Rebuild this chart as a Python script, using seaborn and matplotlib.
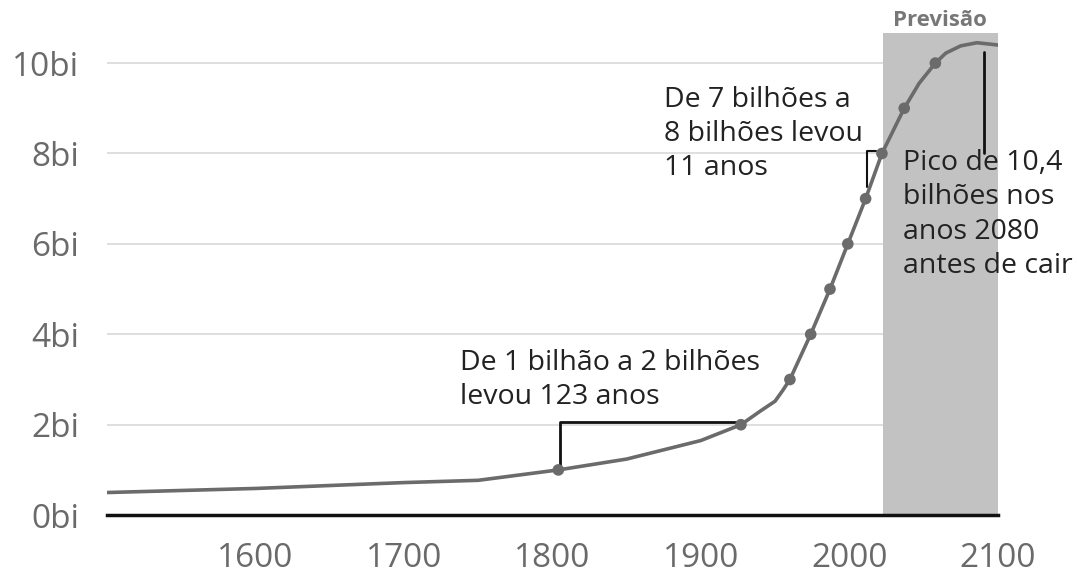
import numpy as np
import pandas as pd
import matplotlib
matplotlib.use("Agg")
import matplotlib.pyplot as plt
import seaborn as sns

sns.set_style("white")
plt.rcParams['font.family'] = ['Open Sans', 'DejaVu Sans']

# world population (billions)
years = [1500, 1600, 1700, 1750, 1804, 1850, 1900, 1927, 1940, 1950, 1955, 1960,
         1974, 1987, 1999, 2011, 2022, 2037, 2047, 2058, 2065, 2075, 2086, 2100]
pop = [0.50, 0.59, 0.72, 0.77, 1.0, 1.24, 1.65, 2.0, 2.3, 2.52, 2.75, 3.0,
       4.0, 5.0, 6.0, 7.0, 8.0, 9.0, 9.55, 10.0, 10.22, 10.38, 10.45, 10.4]
# billion milestones
mile_years = [1804, 1927, 1960, 1974, 1987, 1999, 2011, 2022, 2037, 2058]
mile_pop = [1, 2, 3, 4, 5, 6, 7, 8, 9, 10]
yticks = [0, 2, 4, 6, 8, 10]
ytick_labels = ["0bi", "2bi", "4bi", "6bi", "8bi", "10bi"]
xticks = [1600, 1700, 1800, 1900, 2000, 2100]
forecast_start = 2023

df = pd.DataFrame({"ano": years, "pop": pop})
miles = pd.DataFrame({"ano": mile_years, "pop": mile_pop})

fig = plt.figure(figsize=(10.77, 5.73), dpi=100)
ax = fig.add_axes([0.0994, 0.101, 0.827, 0.841])

ax.axvspan(forecast_start, 2100, color="#c2c2c2", zorder=1, lw=0)
for y in yticks[1:]:
    ax.axhline(y, color="#dcdcdc", lw=1.3, zorder=0)

sns.lineplot(data=df, x="ano", y="pop", ax=ax, color="#6b6b6b", lw=2.6, zorder=3)
sns.scatterplot(data=miles, x="ano", y="pop", ax=ax, color="#6b6b6b", s=70,
                edgecolor="none", zorder=4)

# brackets
ax.plot([1805, 1805, 1925], [1.08, 2.07, 2.07], color="#111111", lw=2, zorder=2)
ax.plot([2018, 2012, 2012], [8.05, 8.05, 7.25], color="#111111", lw=1.5, zorder=2)
ax.plot([2091, 2091], [8.0, 10.24], color="#111111", lw=2, zorder=2)

txt = dict(fontsize=20.5, color="#222222", va="top", ha="left", linespacing=1.3, zorder=5)
ax.text(1738, 3.68, "De 1 bilhão a 2 bilhões\nlevou 123 anos", **txt)
ax.text(1875, 9.5, "De 7 bilhões a\n8 bilhões levou\n11 anos", **txt)
ax.text(2036, 8.1, "Pico de 10,4\nbilhões nos\nanos 2080\nantes de cair", **txt)
ax.text(2061, 10.72, "Previsão", fontsize=16, fontweight="bold", color="#777777",
        ha="center", va="bottom")

ax.set_xlim(1500, 2100)
ax.set_ylim(0, 10.66)
ax.set_xticks(xticks)
ax.set_yticks(yticks)
ax.set_yticklabels(ytick_labels)
ax.set_xlabel("")
ax.set_ylabel("")
ax.tick_params(axis="y", length=0, pad=20, labelsize=24, labelcolor="#6a6a6a")
ax.tick_params(axis="x", length=14, width=1, color="#777777", pad=5,
               labelsize=24, labelcolor="#6a6a6a")
for s in ["top", "right", "left"]:
    ax.spines[s].set_visible(False)
ax.spines["bottom"].set_color("#111111")
ax.spines["bottom"].set_linewidth(2.5)
ax.spines["bottom"].set_zorder(6)

fig.savefig("out.png", dpi=100)
